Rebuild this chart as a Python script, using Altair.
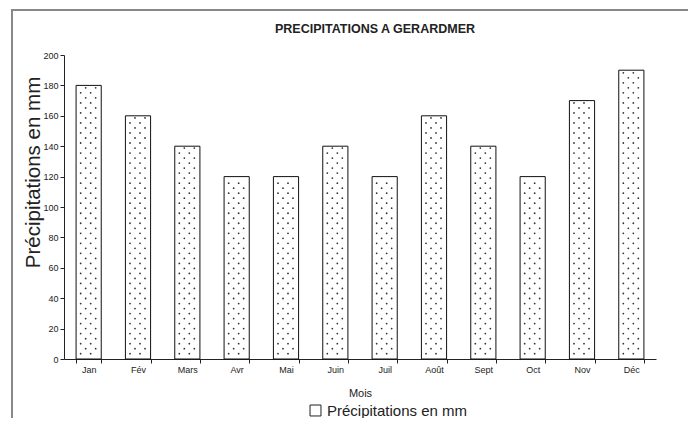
import altair as alt
import pandas as pd

mois = ["Jan", "Fév", "Mars", "Avr", "Mai", "Juin", "Juil", "Août", "Sept", "Oct", "Nov", "Déc"]
precip = [180, 160, 140, 120, 120, 140, 120, 160, 140, 120, 170, 190]
serie = "Précipitations en mm"
y_ticks = [0, 20, 40, 60, 80, 100, 120, 140, 160, 180, 200]

df = pd.DataFrame({"mois": mois, "precip": precip, "serie": [serie] * len(mois)})

FONT = "Liberation Sans"

x_axis = alt.Axis(labelAngle=0, labelFontSize=9, titleFontSize=11,
                  titleFontWeight="normal", tickBand="extent", tickSize=4,
                  labelPadding=2, titlePadding=13,
                  domainColor="#222", tickColor="#222",
                  labelColor="#222", titleColor="#222")
y_axis = alt.Axis(values=y_ticks, grid=False, labelFontSize=9,
                  labelOverlap=False,
                  titleFontSize=20.5, titleFontWeight="normal", tickSize=4,
                  titleX=-21, titleY=117,
                  domainColor="#222", tickColor="#222",
                  labelColor="#222", titleColor="#222")
x_scale = alt.Scale(paddingInner=0.49, paddingOuter=0.245)
y_scale = alt.Scale(domain=[0, 200])

bars = alt.Chart(df).mark_bar(stroke="#111", strokeWidth=1).encode(
    x=alt.X("mois:N", sort=mois, title="Mois", scale=x_scale, axis=x_axis),
    y=alt.Y("precip:Q", title="Précipitations en mm", scale=y_scale, axis=y_axis),
    fill=alt.Fill("serie:N", scale=alt.Scale(range=["white"]),
                  legend=alt.Legend(title=None, orient="none", legendX=244, legendY=348,
                                    symbolType="square", symbolSize=120,
                                    symbolStrokeColor="#222", symbolStrokeWidth=1,
                                    labelFontSize=15, labelColor="#222", labelFont=FONT)),
)

dots_base = alt.Chart(df)

def dot_layer(start, off):
    return dots_base.transform_calculate(
        dy=f"sequence({start}, datum.precip - 1, 6.6)"
    ).transform_flatten(["dy"]).mark_circle(size=3.2, color="#333", opacity=1, xOffset=off).encode(
        x=alt.X("mois:N", sort=mois, title="Mois", scale=x_scale, axis=x_axis),
        y=alt.Y("dy:Q", title="Précipitations en mm", scale=y_scale, axis=y_axis),
    )

dots = [dot_layer(3.5, -8), dot_layer(3.5, 2), dot_layer(6.8, -3), dot_layer(6.8, 7)]

frame = alt.Chart(df).mark_rect(fill=None, stroke="#888", strokeWidth=1.5).encode(
    x=alt.value(-52), x2=alt.value(631), y=alt.value(-45), y2=alt.value(370)
)

chart = alt.layer(bars, *dots, frame).properties(
    width=592, height=304,
    title=alt.TitleParams("PRECIPITATIONS A GERARDMER", fontSize=12.5, font=FONT,
                          fontWeight="bold", color="#222", anchor="middle", dx=15, offset=-26),
    autosize=alt.AutoSizeParams(type="none"),
    padding={"left": 56, "top": 47, "right": 32, "bottom": 59},
).configure(font=FONT).configure_view(stroke=None).configure_axis(labelFont=FONT, titleFont=FONT)

chart.save("out.html", embed_options={"renderer": "svg", "actions": False})
